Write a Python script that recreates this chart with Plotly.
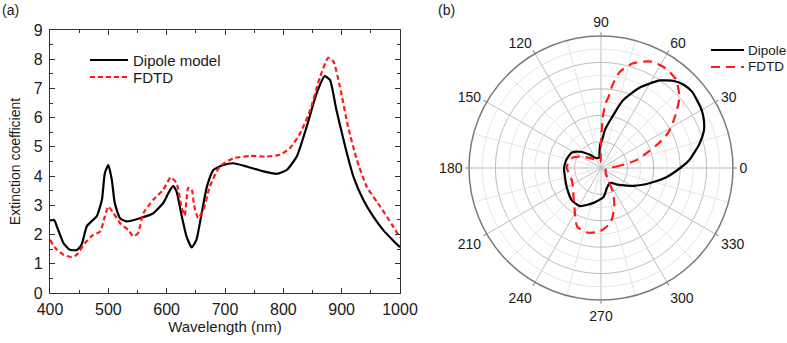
import plotly.graph_objects as go

# ---------------- data: panel (a) ----------------
wl_dipole = [400, 407, 414, 423, 434, 446, 454, 463, 471, 480, 489, 494, 500, 506, 511, 520,
             531, 554, 577, 594, 603, 611, 617, 626, 634, 643, 651, 660, 669, 680, 697, 714,
             737, 766, 789, 806, 823, 840, 857, 871, 880, 891, 906, 920, 937, 954, 971, 989, 1000]
ext_dipole = [2.48, 2.5, 2.16, 1.71, 1.48, 1.47, 1.65, 2.28, 2.45, 2.62, 3.19, 4.1, 4.38, 3.87, 3.08, 2.56,
              2.45, 2.56, 2.73, 3.08, 3.42, 3.67, 3.47, 2.62, 1.94, 1.56, 1.82, 2.73, 3.64, 4.21, 4.38, 4.44,
              4.33, 4.16, 4.08, 4.21, 4.67, 5.69, 6.83, 7.42, 7.29, 6.26, 5.01, 3.99, 3.19, 2.62, 2.16, 1.78, 1.57]

wl_fdtd = [400, 409, 423, 437, 446, 460, 474, 486, 494, 500, 509, 520, 534, 543, 551, 560,
           577, 594, 607, 617, 626, 631, 637, 643, 647, 654, 663, 674, 691, 714, 743, 771,
           794, 811, 829, 846, 863, 877, 886, 897, 911, 926, 943, 966, 986, 1000]
ext_fdtd = [1.82, 1.54, 1.31, 1.23, 1.31, 1.71, 1.99, 2.1, 2.62, 2.96, 2.73, 2.39, 2.16, 1.94, 2.05, 2.73,
            3.19, 3.53, 3.96, 3.76, 2.9, 2.65, 3.6, 3.55, 3.0, 2.56, 2.85, 3.64, 4.33, 4.61, 4.69, 4.67,
            4.73, 4.95, 5.47, 6.26, 7.4, 8.05, 7.92, 7.06, 5.69, 4.56, 3.64, 2.96, 2.35, 1.9]

x_ticks = [400, 500, 600, 700, 800, 900, 1000]
y_ticks = [0, 1, 2, 3, 4, 5, 6, 7, 8, 9]

# ---------------- data: panel (b) ----------------
theta_dipole = [0, 5, 14, 20, 25, 30, 35, 40, 45, 50, 56, 64, 72, 79, 84, 88, 92, 95, 100, 110,
                120, 130, 142, 152, 167, 180, 188, 211, 228, 241, 258, 275, 286, 300, 306, 313,
                331, 343, 352, 360]
r_dipole = [0.60, 0.67, 0.77, 0.83, 0.86, 0.88, 0.89, 0.90, 0.89, 0.86, 0.80, 0.68, 0.54, 0.37, 0.29,
            0.21, 0.18, 0.13, 0.08, 0.08, 0.09, 0.13, 0.20, 0.25, 0.27, 0.28, 0.28, 0.30, 0.33, 0.33,
            0.27, 0.22, 0.16, 0.13, 0.14, 0.17, 0.28, 0.39, 0.50, 0.60]

theta_fdtd = [0, 5, 9, 13, 18, 23, 28, 34, 42, 50, 58, 65, 73, 79, 82, 84, 86, 88, 89.5, 91, 95,
              110, 130, 148, 160, 178, 203, 219, 226, 236, 248, 259, 269, 280, 289, 296, 300, 310,
              330, 350, 360]
r_fdtd = [0.05, 0.11, 0.19, 0.29, 0.36, 0.47, 0.58, 0.67, 0.80, 0.88, 0.90, 0.89, 0.83, 0.74, 0.64,
          0.54, 0.49, 0.38, 0.23, 0.11, 0.05, 0.05, 0.09, 0.16, 0.23, 0.26, 0.24, 0.27, 0.30, 0.36,
          0.48, 0.50, 0.48, 0.42, 0.31, 0.21, 0.12, 0.06, 0.04, 0.04, 0.05]

angle_ticks = [0, 30, 60, 90, 120, 150, 180, 210, 240, 270, 300, 330]
major_rings = [0.2, 0.4, 0.6, 0.8]
minor_rings = [0.1, 0.3, 0.5, 0.7, 0.9]
minor_spokes = [15, 45, 75, 105, 135, 165, 195, 225, 255, 285, 315, 345]

legend_a = ["Dipole model", "FDTD"]
legend_b = ["Dipole", "FDTD"]

FONT = "Liberation Sans, Arial, sans-serif"
W, H = 787, 343
BLACK = "black"
RED = "#ff1a1a"


def px_x(p):
    return p / W


def px_y(p):
    return 1 - p / H


fig = go.Figure()

# ---- panel (a) ----
fig.add_trace(go.Scatter(x=wl_dipole, y=ext_dipole, mode="lines", name=legend_a[0],
                         line=dict(color=BLACK, width=2.2, shape="spline", smoothing=0.5)))
fig.add_trace(go.Scatter(x=wl_fdtd, y=ext_fdtd, mode="lines", name=legend_a[1],
                         line=dict(color=RED, width=2.2, dash="5px,3px", shape="spline", smoothing=0.5)))

# ---- panel (b): light minor grid ----
ring_theta = list(range(0, 361, 2))
for rr in minor_rings:
    fig.add_trace(go.Scatterpolar(r=[rr] * len(ring_theta), theta=ring_theta, mode="lines",
                                  line=dict(color="#e4e4e4", width=1), showlegend=False,
                                  hoverinfo="skip", subplot="polar"))
for a in minor_spokes:
    fig.add_trace(go.Scatterpolar(r=[0.06, 1], theta=[a, a], mode="lines",
                                  line=dict(color="#e4e4e4", width=1), showlegend=False,
                                  hoverinfo="skip", subplot="polar"))

fig.add_trace(go.Scatterpolar(r=r_dipole, theta=theta_dipole, mode="lines", name=legend_b[0],
                              line=dict(color=BLACK, width=2.2, shape="spline", smoothing=0.6),
                              subplot="polar"))
fig.add_trace(go.Scatterpolar(r=r_fdtd, theta=theta_fdtd, mode="lines", name=legend_b[1],
                              line=dict(color=RED, width=2.2, dash="9px,6px", shape="spline", smoothing=0.6),
                              subplot="polar"))

# ---- hand-placed legends (tight row spacing as in the reference) ----
shapes = []
annotations = []
for (x0, x1, xt, ys, labels, size, dashes) in [
    (90, 128, 131, (60, 77), legend_a, 15, (None, "5px,3px")),
    (711, 744, 746, (50, 67), legend_b, 13.5, (None, "9px,6px")),
]:
    for y, lab, dash, col in zip(ys, labels, dashes, (BLACK, RED)):
        ln = dict(color=col, width=2.2)
        if dash:
            ln["dash"] = dash
        shapes.append(dict(type="line", xref="paper", yref="paper",
                           x0=px_x(x0), x1=px_x(x1), y0=px_y(y), y1=px_y(y), line=ln))
        annotations.append(dict(text=lab, x=px_x(xt), y=px_y(y), xref="paper", yref="paper",
                                xanchor="left", yanchor="middle", showarrow=False,
                                font=dict(size=size)))

annotations += [
    dict(text="(a)", x=px_x(0), y=px_y(0), xref="paper", yref="paper", xanchor="left",
         yanchor="top", showarrow=False, font=dict(size=14)),
    dict(text="(b)", x=px_x(436), y=px_y(0), xref="paper", yref="paper", xanchor="left",
         yanchor="top", showarrow=False, font=dict(size=14)),
]

fig.update_layout(
    width=W, height=H,
    margin=dict(l=0, r=0, t=0, b=0),
    paper_bgcolor="white", plot_bgcolor="white",
    showlegend=False,
    font=dict(family=FONT, color="#1a1a1a", size=14),
    xaxis=dict(domain=[px_x(50), px_x(400)], range=[400, 1000], tickvals=x_ticks,
               ticks="inside", ticklen=5, tickwidth=1, tickcolor="#333",
               minor=dict(dtick=50, ticks="inside", ticklen=3, tickcolor="#333"),
               showline=True, linecolor="#333", linewidth=1.2, mirror="ticks",
               showgrid=False, zeroline=False, tickfont=dict(size=16), automargin=False,
               ticklabelstandoff=2,
               title=dict(text="Wavelength (nm)", font=dict(size=15), standoff=3)),
    yaxis=dict(domain=[px_y(293), px_y(30)], range=[0, 9], tickvals=y_ticks,
               ticks="inside", ticklen=5, tickwidth=1, tickcolor="#333",
               minor=dict(dtick=0.5, ticks="inside", ticklen=3, tickcolor="#333"),
               showline=True, linecolor="#333", linewidth=1.2, mirror="ticks",
               showgrid=False, zeroline=False, tickfont=dict(size=16), automargin=False,
               ticklabelstandoff=3,
               title=dict(text="Extinction coefficient", font=dict(size=14), standoff=9)),
    polar=dict(
        domain=dict(x=[px_x(469), px_x(733)], y=[px_y(300), px_y(36)]),
        bgcolor="white",
        radialaxis=dict(range=[0, 1], tickvals=major_rings, showticklabels=False, ticks="",
                        showline=False, gridcolor="#bdbdbd", gridwidth=1),
        angularaxis=dict(direction="counterclockwise", rotation=0, tickvals=angle_ticks,
                         ticktext=[str(a) for a in angle_ticks],
                         gridcolor="#bdbdbd", gridwidth=1,
                         linecolor="#7a7a7a", linewidth=1.5, showline=True,
                         ticks="outside", ticklen=3, tickcolor="#7a7a7a",
                         tickfont=dict(size=14)),
    ),
    shapes=shapes,
    annotations=annotations,
)

fig.write_html("out.html", config={"displayModeBar": False},
               post_script="document.body.style.margin='0px';")
